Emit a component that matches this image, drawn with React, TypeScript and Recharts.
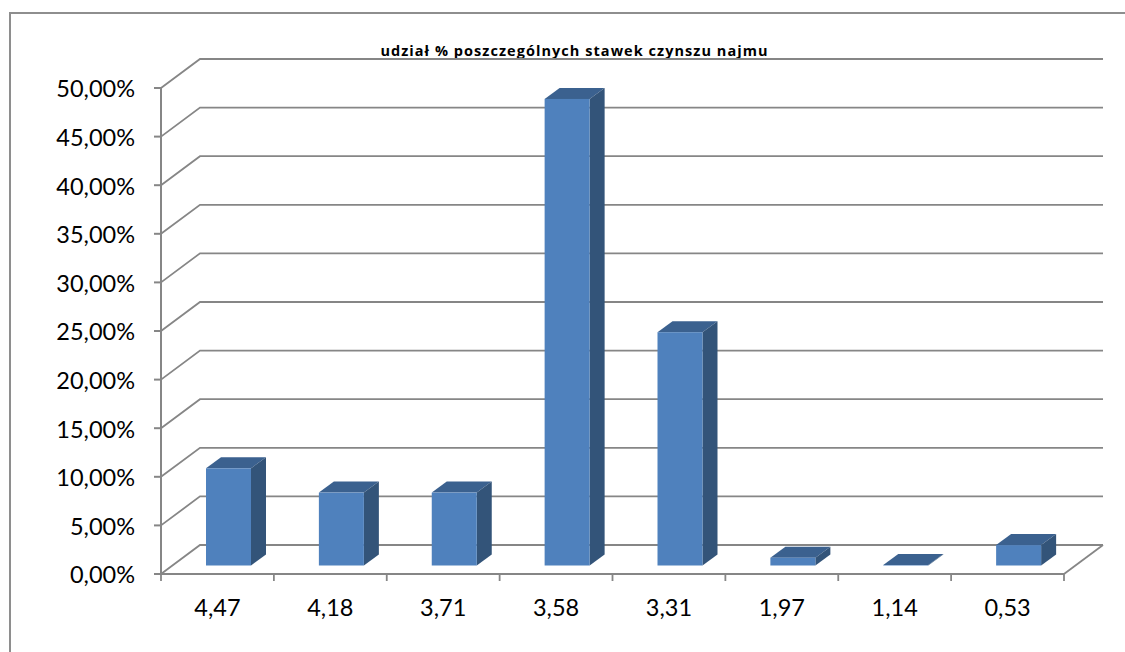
import React from "react";
import { BarChart, Bar, XAxis, YAxis, CartesianGrid } from "recharts";

const categories = ["4,47", "4,18", "3,71", "3,58", "3,31", "1,97", "1,14", "0,53"];
const shares = [10.0, 7.5, 7.5, 48.0, 24.0, 0.8, 0.05, 2.1];
const yTicks = [0, 5, 10, 15, 20, 25, 30, 35, 40, 45, 50];
const data = categories.map((category, i) => ({ category, share: shares[i] }));

const TITLE = "udział % poszczególnych stawek czynszu najmu";
const FONT = "Lato, 'Open Sans', sans-serif";
const GRID = "#868686";
const DEPTH_X = 39;
const DEPTH_Y = 29;
const AXIS_FONT = 23.5;

const GridLine = (props: any) => {
  const { x1, x2, y1, index } = props;
  const isFloor = Math.abs(y1 - 574) < 1;
  return (
    <g key={`g-${index}-${y1}`}>
      <polyline
        points={`${x1},${y1} ${x1 + DEPTH_X},${y1 - DEPTH_Y} ${x2 + DEPTH_X},${y1 - DEPTH_Y}`}
        fill="none"
        stroke={GRID}
        strokeWidth={1.8}
      />
      {isFloor && (
        <line x1={x2} y1={y1} x2={x2 + DEPTH_X} y2={y1 - DEPTH_Y} stroke={GRID} strokeWidth={1.8} />
      )}
    </g>
  );
};

const Bar3D = (props: any) => {
  const { x, y, width, height } = props;
  const dx = 11;
  const dy = -8.5;
  const sx = 15;
  const sy = 11;
  const l = x + dx;
  const r = l + width;
  const t = y + dy;
  const b = t + height;
  return (
    <g>
      <polygon points={`${l},${t} ${l + sx},${t - sy} ${r + sx},${t - sy} ${r},${t}`} fill="#3b618f" />
      <polygon points={`${r},${t} ${r + sx},${t - sy} ${r + sx},${b - sy} ${r},${b}`} fill="#335479" />
      <rect x={l} y={t} width={width} height={height} fill="#4f81bd" />
    </g>
  );
};

const CategoryTick = (props: any) => {
  const { x, y, payload, index } = props;
  const half = 903 / categories.length / 2;
  const axisY = 574;
  return (
    <g>
      <line x1={x - half} y1={axisY} x2={x - half} y2={axisY + 7} stroke={GRID} strokeWidth={1.8} />
      {index === categories.length - 1 && (
        <line x1={x + half} y1={axisY} x2={x + half} y2={axisY + 7} stroke={GRID} strokeWidth={1.8} />
      )}
      <text x={x} y={y + 34} textAnchor="middle" fill="#000" fontSize={AXIS_FONT} fontFamily={FONT}>
        {payload.value}
      </text>
    </g>
  );
};

export default function App() {
  return (
    <div style={{ position: "absolute", left: 0, top: 0, width: 1125, height: 652, background: "#fff", overflow: "hidden" }}>
      <div
        style={{
          position: "absolute",
          left: 9,
          top: 12,
          width: 1116,
          height: 640,
          borderTop: "2px solid #8e8e8e",
          borderLeft: "2px solid #8e8e8e",
          boxSizing: "border-box",
        }}
      />
      <div
        style={{
          position: "absolute",
          left: 0,
          width: 1149,
          top: 41,
          textAlign: "center",
          font: `bold 14.5px 'Open Sans', ${FONT}`,
          letterSpacing: "1.05px",
          color: "#000",
          whiteSpace: "nowrap",
        }}
      >
        {TITLE}
      </div>
      <div style={{ position: "absolute", left: 0, top: 0 }}>
        <BarChart
          width={1125}
          height={652}
          data={data}
          margin={{ top: 88, right: 61, bottom: 0, left: 0 }}
          barSize={45}
          style={{ fontFamily: FONT }}
        >
          <CartesianGrid vertical={false} horizontal={GridLine as any} syncWithTicks />
          <XAxis
            dataKey="category"
            height={78}
            axisLine={{ stroke: GRID, strokeWidth: 2 }}
            tickLine={false}
            tick={CategoryTick as any}
            interval={0}
          />
          <YAxis
            width={161}
            domain={[0, 50]}
            ticks={yTicks}
            tickFormatter={(v: number) => `${v.toFixed(2).replace(".", ",")}%`}
            axisLine={{ stroke: GRID, strokeWidth: 2 }}
            tickLine={{ stroke: GRID, strokeWidth: 2 }}
            tickSize={7}
            tickMargin={19}
            tick={{ fill: "#000", fontSize: AXIS_FONT, fontFamily: FONT, dy: 1 }}
            interval={0}
          />
          <Bar dataKey="share" shape={Bar3D as any} isAnimationActive={false} />
        </BarChart>
      </div>
    </div>
  );
}
